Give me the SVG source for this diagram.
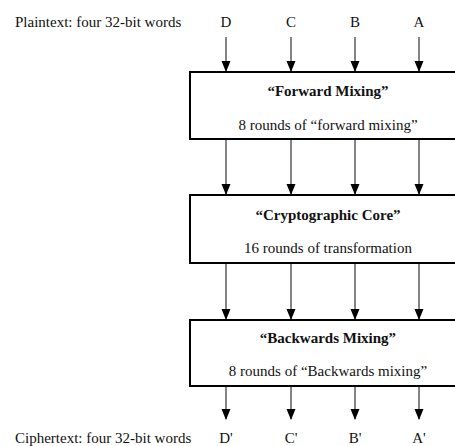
<svg xmlns="http://www.w3.org/2000/svg" width="455" height="446" viewBox="0 0 455 446">
<defs>
<marker id="ah" markerWidth="11" markerHeight="10" refX="10" refY="4.5" orient="auto" markerUnits="userSpaceOnUse">
<path d="M0,0 L11,4.5 L0,9 Z" fill="#000"/>
</marker>
<style>
text{font-family:"Liberation Serif","Times New Roman",serif;font-size:15px;fill:#111}
.b{font-weight:bold}
.m{text-anchor:middle}
.box{fill:#fff;stroke:#000;stroke-width:2}
.c{stroke:#333;stroke-width:1.2;fill:none}
.a{marker-end:url(#ah)}
</style>
</defs>
<rect width="455" height="446" fill="#fff"/>
<g id="labels-in">
<text x="15" y="27">Plaintext: four 32-bit words</text>
<text class="m" x="226" y="27">D</text>
<text class="m" x="291" y="27">C</text>
<text class="m" x="355" y="27">B</text>
<text class="m" x="419" y="27">A</text>
</g>
<g id="connectors">
<line class="c a" x1="226" y1="37" x2="226" y2="71"/>
<line class="c a" x1="291" y1="37" x2="291" y2="71"/>
<line class="c a" x1="355" y1="37" x2="355" y2="71"/>
<line class="c a" x1="419" y1="37" x2="419" y2="71"/>
<line class="c a" x1="226" y1="140" x2="226" y2="194"/>
<line class="c a" x1="291" y1="140" x2="291" y2="194"/>
<line class="c a" x1="355" y1="140" x2="355" y2="194"/>
<line class="c a" x1="419" y1="140" x2="419" y2="194"/>
<line class="c a" x1="226" y1="264" x2="226" y2="319"/>
<line class="c a" x1="291" y1="264" x2="291" y2="319"/>
<line class="c a" x1="355" y1="264" x2="355" y2="319"/>
<line class="c a" x1="419" y1="264" x2="419" y2="319"/>
<line class="c a" x1="226" y1="387" x2="226" y2="419"/>
<line class="c a" x1="291" y1="387" x2="291" y2="419"/>
<line class="c a" x1="355" y1="387" x2="355" y2="419"/>
<line class="c a" x1="419" y1="387" x2="419" y2="419"/>
</g>
<g id="forward-mixing">
<rect class="box" x="190" y="72" width="272" height="67"/>
<text class="b m" x="328" y="96">“Forward Mixing”</text>
<text class="m" x="328" y="130">8 rounds of “forward mixing”</text>
</g>
<g id="crypto-core">
<rect class="box" x="190" y="195" width="272" height="68"/>
<text class="b m" x="328" y="220">“Cryptographic Core”</text>
<text class="m" x="328" y="253">16 rounds of transformation</text>
</g>
<g id="backwards-mixing">
<rect class="box" x="190" y="320" width="272" height="66"/>
<text class="b m" x="328" y="343">“Backwards Mixing”</text>
<text class="m" x="328" y="376">8 rounds of “Backwards mixing”</text>
</g>
<g id="labels-out">
<text x="15" y="443">Ciphertext: four 32-bit words</text>
<text class="m" x="226" y="443">D'</text>
<text class="m" x="291" y="443">C'</text>
<text class="m" x="355" y="443">B'</text>
<text class="m" x="419" y="443">A'</text>
</g>
</svg>
